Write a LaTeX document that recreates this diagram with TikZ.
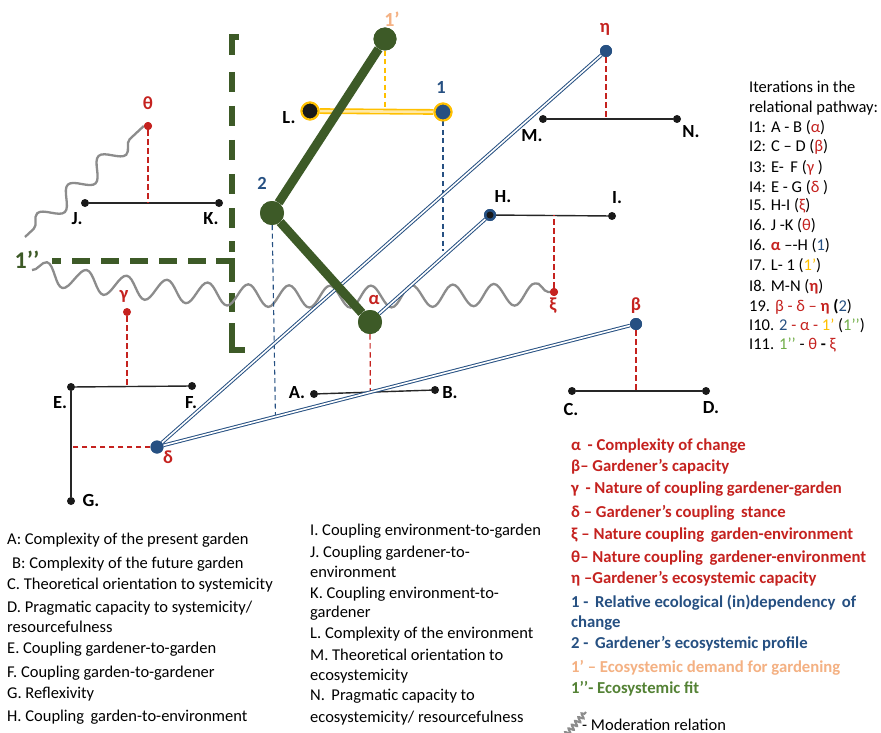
\documentclass[tikz,border=0pt]{standalone}
\usepackage{fontspec}
\setmainfont{Carlito}
\usetikzlibrary{decorations.pathmorphing,calc}

\definecolor{cred}{RGB}{197,34,31}
\definecolor{cblue}{RGB}{38,80,130}
\definecolor{cgreen}{RGB}{61,90,39}
\definecolor{cpeach}{RGB}{244,177,131}
\definecolor{cgold}{RGB}{255,192,0}
\definecolor{clgreen}{RGB}{112,173,71}
\definecolor{cfit}{RGB}{84,130,53}
\definecolor{cgrey}{RGB}{140,140,140}

\newcommand{\colR}[1]{\textcolor{cred}{#1}}
\newcommand{\colB}[1]{\textcolor{cblue}{#1}}
\newcommand{\colY}[1]{\textcolor{cgold}{#1}}
\newcommand{\colG}[1]{\textcolor{clgreen}{#1}}

\begin{document}
\begin{tikzpicture}[x=1pt,y=-1pt,
  txt/.style={font=\fontsize{16.5}{19}\selectfont, inner sep=0, anchor=base west},
  btxt/.style={txt, font=\fontsize{16.7}{19}\selectfont\bfseries},
  lbl/.style={font=\fontsize{18.5}{18}\selectfont\bfseries, inner sep=0},
  bdot/.style={circle, fill=black!90, inner sep=0, minimum size=8pt},
  rdot/.style={circle, fill=cred, inner sep=0, minimum size=8pt},
  udot/.style={circle, fill=cblue, inner sep=0, minimum size=12pt},
  gdot/.style={circle, fill=cgreen, inner sep=0, minimum size=23pt},
  ring/.style={circle, draw=cgold, line width=2pt, inner sep=0, minimum size=17pt},
  axis/.style={draw=black!85, line width=1.4pt},
  rdash/.style={draw=cred, line width=1.2pt, dash pattern=on 5.5pt off 3.5pt},
  udash/.style={draw=cblue, line width=1.1pt, dash pattern=on 5pt off 3.5pt},
  ydash/.style={draw=cgold, line width=1.1pt, dash pattern=on 5pt off 3.5pt},
  dbl/.style={draw=cblue, line width=1pt, double=white, double distance=1.6pt},
  ylink/.style={draw=cgold, line width=1.6pt, double=cgold!35, double distance=2.6pt},
  glink/.style={draw=cgreen, line width=9pt, line join=round},
  moder/.style={draw=cgrey, line width=2.3pt, decorate,
    decoration={snake, amplitude=11pt, segment length=41pt}},
  framepiece/.style={draw=cgreen, line width=5.5pt, line join=miter},
]
\useasboundingbox[fill=white] (0,0) rectangle (881,733);

% ---------- points ----------
\node[rdot] (theta) at (148,126) {};
\node[bdot] (J) at (85,203) {};
\node[bdot] (K) at (219,203) {};
\node[ring, fill=black!90] (L) at (310,111) {};
\node[ring, fill=cblue] (one) at (443,112) {};
\node[gdot] (oneP) at (385,39) {};
\node[gdot, minimum size=24pt] (two) at (272,213) {};
\node[gdot, minimum size=24pt] (alpha) at (370,322) {};
\node[udot] (eta) at (606,51) {};
\node[bdot] (M) at (543,119) {};
\node[bdot] (N) at (677,119) {};
\node[udot] (H) at (490,215) {};
\node[bdot] (I) at (612,216) {};
\node[rdot] (xi) at (554,292) {};
\node[bdot] (A) at (314,394) {};
\node[bdot] (B) at (435,390) {};
\node[udot] (beta) at (636,324) {};
\node[bdot] (C) at (572,391) {};
\node[bdot] (D) at (706,391) {};
\node[rdot] (gamma) at (127,312) {};
\node[bdot] (E) at (71,387) {};
\node[bdot] (F) at (192,386) {};
\node[bdot] (G) at (71,501) {};
\node[udot, minimum size=13pt] (delta) at (157,447) {};

\path (delta) -- (beta) coordinate[pos=0.24] (dbfoot);
\path (A) -- (B) coordinate[pos=0.463] (abfoot);
\coordinate (oneEnd) at (443,251);

% ---------- fit frame (dashed bracket) ----------
\draw[framepiece] (239,37) -- (232,37) -- (232,55);
\foreach \y in {72,106,140,174,208}
  \draw[framepiece] (232,\y) -- (232,\y+20);
\draw[framepiece] (232,241) -- (232,252);
\draw[framepiece] (52,261) -- (61,261);
\foreach \x in {72,101,130,159,188}
  \draw[framepiece] (\x,261) -- (\x+18,261);
\draw[framepiece] (216,261) -- (232,261) -- (232,282);
\draw[framepiece] (232,293) -- (232,312);
\draw[framepiece] (232,323) -- (232,350) -- (245,350);

% ---------- moderation waves ----------
\draw[moder, decoration={snake, amplitude=9pt, segment length=42pt,
      pre length=12pt, post length=3pt}] (25,237) -- (theta.west);
\draw[moder] (32,270) .. controls (180,305) and (400,292) .. (xi.west);

% ---------- axes ----------
\draw[axis] (J) -- (K);
\draw[axis] (M) -- (N);
\draw[axis] (H) -- (I);
\draw[axis] (A) -- (B);
\draw[axis] (C) -- (D);
\draw[axis] (E) -- (F);
\draw[axis] (E) -- (G);

% ---------- projections ----------
\draw[rdash] (theta) -- (theta |- J);
\draw[rdash] (eta) -- (eta |- M);
\draw[rdash] (xi) -- (xi |- H);
\draw[rdash] (alpha) -- (abfoot);
\draw[rdash] (beta) -- (beta |- C);
\draw[rdash] (gamma) -- (gamma |- E);
\draw[rdash] (delta) -- (delta -| E);
\draw[ydash] (oneP) -- (oneP |- L);
\draw[udash] (one) -- (oneEnd);
\draw[udash] (two) -- (dbfoot);

% ---------- links ----------
\draw[dbl] (delta) -- (eta);
\draw[dbl] (delta) -- (beta);
\draw[dbl] (alpha) -- (H);
\draw[ylink] (L) -- (one);
\draw[glink] (oneP) -- (two) -- (alpha);

% redraw points on top
\node[rdot] at (theta) {};
\node[ring, fill=black!90] at (L) {};
\node[ring, fill=cblue] at (one) {};
\node[gdot] at (oneP) {};
\node[gdot, minimum size=24pt] at (two) {};
\node[gdot, minimum size=24pt] at (alpha) {};
\node[udot] at (eta) {};
\node[udot] at (H) {};
\node[bdot, minimum size=7pt] at (H) {};
\node[rdot] at (xi) {};
\node[udot] at (beta) {};
\node[udot, minimum size=13pt] at (delta) {};

% ---------- point labels ----------
\node[lbl, text=cred] (lth) at (148,103) {θ};
\node[lbl] (lJ) at (77,219) {J.};
\node[lbl] (lK) at (211,219) {K.};
\node[lbl] (lL) at (289,118) {L.};
\node[lbl, text=cpeach, font=\fontsize{20}{20}\selectfont\bfseries] (l1p) at (392,19) {1’};
\node[lbl, text=cblue] (l1) at (441,87) {1};
\node[lbl, text=cblue] (l2) at (262,183) {2};
\node[lbl, text=cred] (leta) at (605,29) {η};
\node[lbl] (lM) at (532,136) {M.};
\node[lbl] (lN) at (691,132) {N.};
\node[lbl] (lH) at (503,197) {H.};
\node[lbl] (lI) at (617,198) {I.};
\node[lbl, text=cred] (lxi) at (553,306) {ξ};
\node[lbl, text=cred] (lal) at (374,300) {α};
\node[lbl, text=cred] (lbe) at (636,306) {β};
\node[lbl] (lA) at (297,393) {A.};
\node[lbl] (lB) at (450,393) {B.};
\node[lbl] (lC) at (571,409) {C.};
\node[lbl] (lD) at (711,408) {D.};
\node[lbl] (lE) at (60,403) {E.};
\node[lbl] (lF) at (191,403) {F.};
\node[lbl] (lG) at (91,500) {G.};
\node[lbl, text=cred] (lga) at (124,296) {γ};
\node[lbl, text=cred] (lde) at (168,457) {δ};
\node[lbl, text=cgreen, font=\fontsize{24}{24}\selectfont\bfseries] (l1pp) at (27,260) {1’’};

% ---------- iterations ----------
\node[txt] (it1) at (749,93) {Iterations in the};
\node[txt] (it2) at (749,113) {relational pathway:};
\node[txt] (it3) at (749,133) {I1: A - B (\colR{α})};
\node[txt] (it4) at (749,152) {I2: C – D (\colR{β})};
\node[txt] (it5) at (749,172) {I3: E-\, F (\colR{γ} )};
\node[txt] (it6) at (749,192) {I4: E - G (\colR{δ} )};
\node[txt] (it7) at (749,211) {I5. H-I (\colR{ξ})};
\node[txt] (it8) at (749,230) {I6. J -K (\colR{θ})};
\node[txt] (it9) at (749,250) {I6. \colR{\bfseries α} –-H (\colB{1})};
\node[txt] (it10) at (749,270) {I7. L- 1 (\colY{1’})};
\node[txt] (it11) at (749,291) {I8. M-N (\colR{\bfseries η})};
\node[txt] (it12) at (749,311) {19. \colR{β - δ – \bfseries η} \textbf{(}\colB{2})};
\node[txt] (it13) at (749,330) {I10. \colB{2} \colR{- α -} \colY{1’} (\colG{1’’})};
\node[txt] (it14) at (749,349) {I11. \colG{1’’} - \colR{θ} \textbf{-} \colR{ξ}};

% ---------- legend of points ----------
\node[btxt, text=cred] (lg1) at (571,450) {α \,- Complexity of change};
\node[btxt, text=cred] (lg2) at (571,471) {β– Gardener’s capacity};
\node[btxt, text=cred] (lg3) at (571,493) {γ \,- Nature of coupling gardener-garden};
\node[btxt, text=cred] (lg4) at (571,517) {δ – Gardener’s coupling \,stance};
\node[btxt, text=cred] (lg5) at (571,539) {ξ – Nature coupling \,garden-environment};
\node[btxt, text=cred] (lg6) at (571,562) {θ– Nature coupling \,gardener-environment};
\node[btxt, text=cred] (lg7) at (571,583) {η –Gardener’s ecosystemic capacity};
\node[btxt, text=cblue] (lg8) at (571,607) {1 - \,Relative ecological (in)dependency \,of};
\node[btxt, text=cblue] (lg9) at (571,627) {change};
\node[btxt, text=cblue] (lg10) at (571,648) {2 - \,Gardener’s ecosystemic profile};
\node[btxt, text=cpeach] (lg11) at (571,672) {1’ – Ecosystemic demand for gardening};
\node[btxt, text=cfit] (lg12) at (571,693) {1’’- Ecosystemic fit};
\draw[draw=cgrey, line width=2pt, decorate,
      decoration={snake, amplitude=2.5pt, segment length=5pt}] (566,735) -- (586,712);
\node[txt] (lg13) at (582,730) {- Moderation relation};

% ---------- legend of axes ----------
\node[txt] (a1) at (7,544) {A: Complexity of the present garden};
\node[txt] (a2) at (12,568) {B: Complexity of the future garden};
\node[txt] (a3) at (7,589) {C. Theoretical orientation to systemicity};
\node[txt] (a4) at (7,612) {D. Pragmatic capacity to systemicity/};
\node[txt] (a5) at (7,632) {resourcefulness};
\node[txt] (a6) at (7,653) {E. Coupling gardener-to-garden};
\node[txt] (a7) at (7,677) {F. Coupling garden-to-gardener};
\node[txt] (a8) at (7,698) {G. Reflexivity};
\node[txt] (a9) at (7,721) {H. Coupling \,garden-to-environment};

\node[txt] (b1) at (310,535) {I. Coupling environment-to-garden};
\node[txt] (b2) at (310,557) {J. Coupling gardener-to-};
\node[txt] (b3) at (310,577) {environment};
\node[txt] (b4) at (310,598) {K. Coupling environment-to-};
\node[txt] (b5) at (310,617) {gardener};
\node[txt] (b6) at (310,638) {L. Complexity of the environment};
\node[txt] (b7) at (310,660) {M. Theoretical orientation to};
\node[txt] (b8) at (310,680) {ecosystemicity};
\node[txt] (b9) at (310,700) {N. \,Pragmatic capacity to};
\node[txt] (b10) at (310,722) {ecosystemicity/ resourcefulness};
\end{tikzpicture}
\end{document}
